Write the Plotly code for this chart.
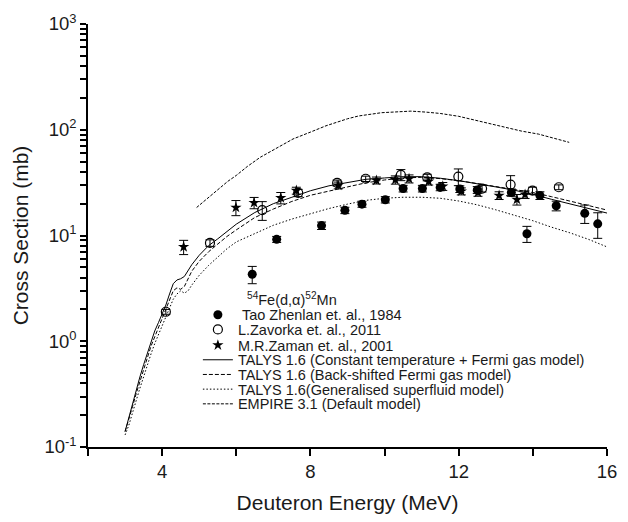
import plotly.graph_objects as go

# ---------------- experimental data ----------------
# Tao Zhenlan et. al., 1984 (filled circles)
tao_e = [6.43, 7.09, 8.30, 8.93, 9.39, 10.02, 10.50, 11.02, 11.50, 12.03, 12.50, 13.42, 13.84, 14.19, 14.63, 15.40, 15.75]
tao_s = [4.3, 9.2, 12.4, 17.3, 19.8, 21.8, 27.8, 27.8, 28.5, 27.5, 27.0, 25.5, 10.4, 23.9, 19.1, 16.2, 12.9]
tao_err = [0.8, 0.6, 1.0, 1.2, 1.3, 1.5, 2.0, 2.0, 2.0, 2.0, 2.0, 2.0, 1.8, 2.0, 2.0, 3.2, 3.5]

# L.Zavorka et. al., 2011 (open circles)
zav_e = [4.10, 5.29, 6.70, 7.67, 8.72, 9.49, 10.44, 11.15, 11.99, 12.63, 13.40, 13.99, 14.70]
zav_s = [1.9, 8.5, 17.4, 25.3, 31.4, 34.4, 37.5, 35.4, 36.1, 27.8, 30.3, 26.6, 28.6]
zav_err = [0.1, 0.6, 3.5, 2.0, 2.0, 2.0, 4.5, 2.5, 6.5, 2.0, 6.5, 2.0, 1.5]

# M.R.Zaman et. al., 2001 (stars)
zam_e = [4.58, 5.99, 6.48, 7.20, 7.62, 8.75, 9.78, 10.29, 10.66, 11.19, 11.57, 12.07, 12.52, 13.09, 13.57, 13.79]
zam_s = [7.8, 18.4, 20.4, 22.7, 26.6, 29.8, 33.2, 33.6, 34.4, 32.5, 29.2, 26.2, 25.5, 23.9, 21.9, 24.4]
zam_err = [1.2, 3.0, 2.5, 2.8, 2.0, 2.2, 2.5, 3.0, 3.0, 2.5, 2.5, 2.0, 2.0, 2.0, 2.5, 2.0]

# ---------------- model calculations ----------------
talys_e = [3.0, 3.1, 3.2, 3.3, 3.4, 3.5, 3.6, 3.7, 3.8, 3.9, 4.0, 4.1, 4.2, 4.3, 4.4, 4.5, 4.6, 4.7, 4.8,
           5.0, 5.25, 5.5, 5.75, 6.0, 6.5, 7.0, 7.5, 8.0, 8.5, 9.0, 9.5, 10.0, 10.5, 11.0, 11.5, 12.0,
           12.5, 13.0, 13.5, 14.0, 14.5, 15.0, 15.5, 16.0]
talys_ct = [0.14, 0.19, 0.26, 0.35, 0.46, 0.6, 0.78, 1.0, 1.25, 1.5, 1.8, 2.2, 2.8, 3.5, 3.8, 3.9, 4.1, 4.7, 5.3,
            6.5, 8.0, 9.3, 11.0, 12.8, 16.5, 20.0, 23.0, 26.5, 29.5, 31.5, 34.0, 35.0, 36.0, 36.0, 34.8, 33.0,
            31.0, 28.8, 26.8, 24.5, 22.0, 20.0, 18.0, 16.3]
talys_bsfg = [0.14, 0.18, 0.24, 0.32, 0.42, 0.55, 0.7, 0.9, 1.1, 1.35, 1.65, 2.0, 2.5, 3.0, 3.2, 3.1, 3.3, 3.9, 4.6,
              5.7, 7.0, 8.3, 9.8, 11.3, 14.8, 17.8, 21.0, 24.0, 26.5, 28.8, 31.5, 33.5, 35.0, 35.5, 34.5, 33.0,
              31.0, 29.0, 27.0, 25.5, 23.3, 21.3, 19.2, 17.4]
talys_gsm = [0.13, 0.16, 0.21, 0.28, 0.36, 0.46, 0.6, 0.76, 0.95, 1.15, 1.4, 1.7, 2.1, 2.5, 2.8, 3.0, 2.85, 3.0, 3.4,
             4.2, 5.2, 6.3, 7.5, 8.7, 10.5, 12.5, 14.3, 16.0, 18.0, 19.8, 21.5, 22.5, 23.0, 23.0, 22.5, 21.2,
             19.5, 17.5, 15.5, 13.8, 12.0, 10.6, 9.2, 7.8]

empire_e = [4.93, 5.2, 5.5, 5.77, 6.0, 6.3, 6.65, 7.0, 7.53, 8.0, 8.42, 9.0, 9.30, 9.92, 10.3, 10.71, 11.1,
            11.5, 12.0, 12.38, 12.8, 13.27, 13.7, 14.15, 14.6, 14.98]
empire_s = [18.4, 22, 27, 32.5, 37, 45, 55, 64, 81.8, 95, 109, 127, 135, 145, 148, 150, 147,
            142.6, 134, 125, 115, 105, 97, 91, 83, 76]

# tick positions and labels (unlabelled entries are minor ticks)
x_tickvals = [2, 4, 6, 8, 10, 12, 14, 16]
x_ticktext = ["", "4", "", "8", "", "12", "", "16"]
y_decades = [0.1, 1, 10, 100, 1000]
y_decade_text = ["10<sup>-1</sup>", "10<sup>0</sup>", "10<sup>1</sup>", "10<sup>2</sup>", "10<sup>3</sup>"]
y_tickvals = []
y_ticktext = []
for i, d in enumerate(y_decades):
    y_tickvals.append(d)
    y_ticktext.append(y_decade_text[i])
    if d < 1000:
        for m in range(2, 10):
            y_tickvals.append(m * d)
            y_ticktext.append("")

FONT = "Liberation Sans, Arial, sans-serif"
W, H = 628, 522
ML, MR, MT, MB = 88, 11, 19, 71
PW, PH = W - ML - MR, H - MT - MB


def px_to_paper_x(px):
    return (px - ML) / PW


def px_to_paper_y(py):
    return (H - MB - py) / PH


fig = go.Figure()

# model curves
fig.add_trace(go.Scatter(x=talys_e, y=talys_ct, mode="lines",
                         name="TALYS 1.6 (Constant temperature + Fermi gas model)",
                         line=dict(color="black", width=1), legend="legend4"))
fig.add_trace(go.Scatter(x=talys_e, y=talys_bsfg, mode="lines",
                         name="TALYS 1.6 (Back-shifted Fermi gas model)",
                         line=dict(color="black", width=1, dash="4px,2px"), legend="legend5"))
fig.add_trace(go.Scatter(x=talys_e, y=talys_gsm, mode="lines",
                         name="TALYS 1.6(Generalised superfluid model)",
                         line=dict(color="black", width=1, dash="1.5px,2px"), legend="legend6"))
fig.add_trace(go.Scatter(x=empire_e, y=empire_s, mode="lines",
                         name="EMPIRE 3.1 (Default model)",
                         line=dict(color="black", width=1, dash="3px,1.5px"), legend="legend7"))

# experimental points
err_style = dict(type="data", color="black", thickness=1, width=4.5)
fig.add_trace(go.Scatter(x=tao_e, y=tao_s, mode="markers", name="\u00a0Tao Zhenlan et. al., 1984",
                         marker=dict(symbol="circle", size=9, color="black"),
                         error_y=dict(array=tao_err, **err_style), legend="legend"))
fig.add_trace(go.Scatter(x=zav_e, y=zav_s, mode="markers", name="L.Zavorka et. al., 2011",
                         marker=dict(symbol="circle-open", size=9, color="black", line=dict(width=1.2, color="black")),
                         error_y=dict(array=zav_err, **err_style), legend="legend2"))
fig.add_trace(go.Scatter(x=zam_e, y=zam_s, mode="markers", name="M.R.Zaman et. al., 2001",
                         marker=dict(symbol="star", size=8.5, color="black", line=dict(width=0)),
                         error_y=dict(array=zam_err, **err_style), legend="legend3"))

# legends (one row each, placed like the original)
row_y = [316, 331, 347, 362, 377, 392, 407]
keys = ["legend", "legend2", "legend3", "legend4", "legend5", "legend6", "legend7"]
legend_layout = {}
for k, yy in zip(keys, row_y):
    legend_layout[k] = dict(x=px_to_paper_x(200), y=px_to_paper_y(yy), xanchor="left", yanchor="middle",
                            bgcolor="rgba(0,0,0,0)", borderwidth=0, itemwidth=30, tracegroupgap=0,
                            font=dict(family=FONT, size=14.5, color="#1a1a1a"))
fig.update_layout(**legend_layout)

fig.add_annotation(x=px_to_paper_x(296), y=px_to_paper_y(300), xref="paper", yref="paper",
                   text="<sup>54</sup>Fe(d,\u03b1)<sup>52</sup>Mn", showarrow=False,
                   font=dict(family=FONT, size=14.5, color="#1a1a1a"), xanchor="center", yanchor="middle")

fig.update_layout(
    width=W, height=H,
    margin=dict(l=ML, r=MR, t=MT, b=MB, pad=0),
    paper_bgcolor="white", plot_bgcolor="white",
    font=dict(family=FONT, color="#1a1a1a"),
    showlegend=True,
    xaxis=dict(
        range=[2, 16], showgrid=False, zeroline=False,
        showline=True, linecolor="black", linewidth=1.5, mirror=False,
        tickmode="array", tickvals=x_tickvals, ticktext=x_ticktext,
        ticks="outside", ticklen=7, tickwidth=1.5, tickcolor="black",
        tickfont=dict(family=FONT, size=18.5, color="#1a1a1a"),
        title=dict(text="Deuteron Energy (MeV)", font=dict(family=FONT, size=21, color="#1a1a1a"), standoff=14),
    ),
    yaxis=dict(
        type="log", range=[-1, 3], showgrid=False, zeroline=False,
        showline=True, linecolor="black", linewidth=1.5, mirror=False,
        tickmode="array", tickvals=y_tickvals, ticktext=y_ticktext,
        ticks="outside", ticklen=6, tickwidth=1.5, tickcolor="black",
        tickfont=dict(family=FONT, size=18.5, color="#1a1a1a"),
        title=dict(text="Cross Section (mb)", font=dict(family=FONT, size=21, color="#1a1a1a"), standoff=10),
    ),
)

fig.write_html("out.html")
